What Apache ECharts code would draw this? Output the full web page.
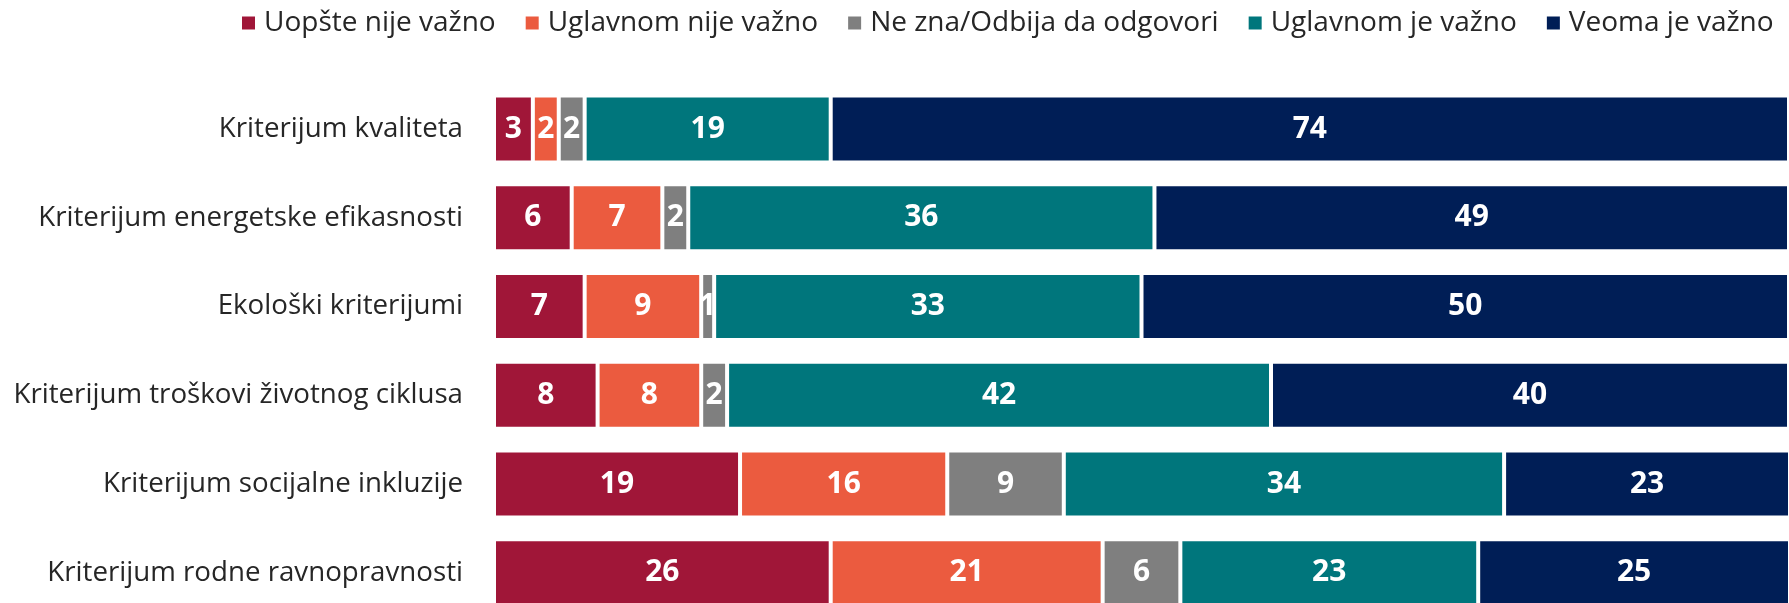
<!DOCTYPE html>
<html>
<head>
<meta charset="utf-8">
<script src="https://cdn.jsdelivr.net/npm/echarts@6/dist/echarts.min.js"></script>
<style>
  html, body { margin: 0; padding: 0; background: #ffffff; }
  #chart { width: 1789px; height: 603px; }
</style>
</head>
<body>
<div id="chart"></div>
<script>
// Criteria, top to bottom
const categories = [
  'Kriterijum kvaliteta',
  'Kriterijum energetske efikasnosti',
  'Ekološki kriterijumi',
  'Kriterijum troškovi životnog ciklusa',
  'Kriterijum socijalne inkluzije',
  'Kriterijum rodne ravnopravnosti'
];

const seriesNames = [
  'Uopšte nije važno',
  'Uglavnom nije važno',
  'Ne zna/Odbija da odgovori',
  'Uglavnom je važno',
  'Veoma je važno'
];

// Shares (%) per answer, in category order
const uopsteNije   = [3, 6, 7, 8, 19, 26];
const uglavnomNije = [2, 7, 9, 8, 16, 21];
const neZna        = [2, 2, 1, 2, 9, 6];
const uglavnomJe   = [19, 36, 33, 42, 34, 23];
const veomaJe      = [74, 49, 50, 40, 23, 25];

const seriesData = [uopsteNije, uglavnomNije, neZna, uglavnomJe, veomaJe];
const colors = ['#A01638', '#EB5B3F', '#7F7F7F', '#00767C', '#001E56'];

const FONT = '"Open Sans", "Noto Sans", sans-serif';

const chart = echarts.init(document.getElementById('chart'), null, { renderer: 'canvas' });

chart.setOption({
  animation: false,
  backgroundColor: '#ffffff',
  color: colors,
  legend: {
    data: seriesNames,
    left: 240,
    top: 9,
    padding: 0,
    icon: 'rect',
    itemWidth: 15,
    itemHeight: 15,
    itemGap: 28,
    textStyle: { fontFamily: FONT, fontSize: 28, color: '#262626', padding: [0, 0, 0, 3] }
  },
  grid: {
    left: 494,
    right: 0,
    top: 84.6,
    height: 532.5,
    containLabel: false,
    outerBoundsMode: 'none'
  },
  xAxis: {
    type: 'value',
    min: 0,
    max: 100,
    show: false
  },
  yAxis: {
    type: 'category',
    data: categories,
    inverse: true,
    axisLine: { show: false },
    axisTick: { show: false },
    axisLabel: {
      margin: 31,
      fontFamily: FONT,
      fontSize: 27.7,
      color: '#262626'
    }
  },
  series: seriesNames.map((name, i) => ({
    name: name,
    type: 'bar',
    stack: 'total',
    barWidth: 67,
    data: seriesData[i],
    itemStyle: { color: colors[i], borderColor: '#ffffff', borderWidth: 2 },
    label: {
      show: true,
      position: 'inside',
      color: '#ffffff',
      fontFamily: FONT,
      fontWeight: 'bold',
      fontSize: 30
    }
  }))
});
</script>
</body>
</html>
